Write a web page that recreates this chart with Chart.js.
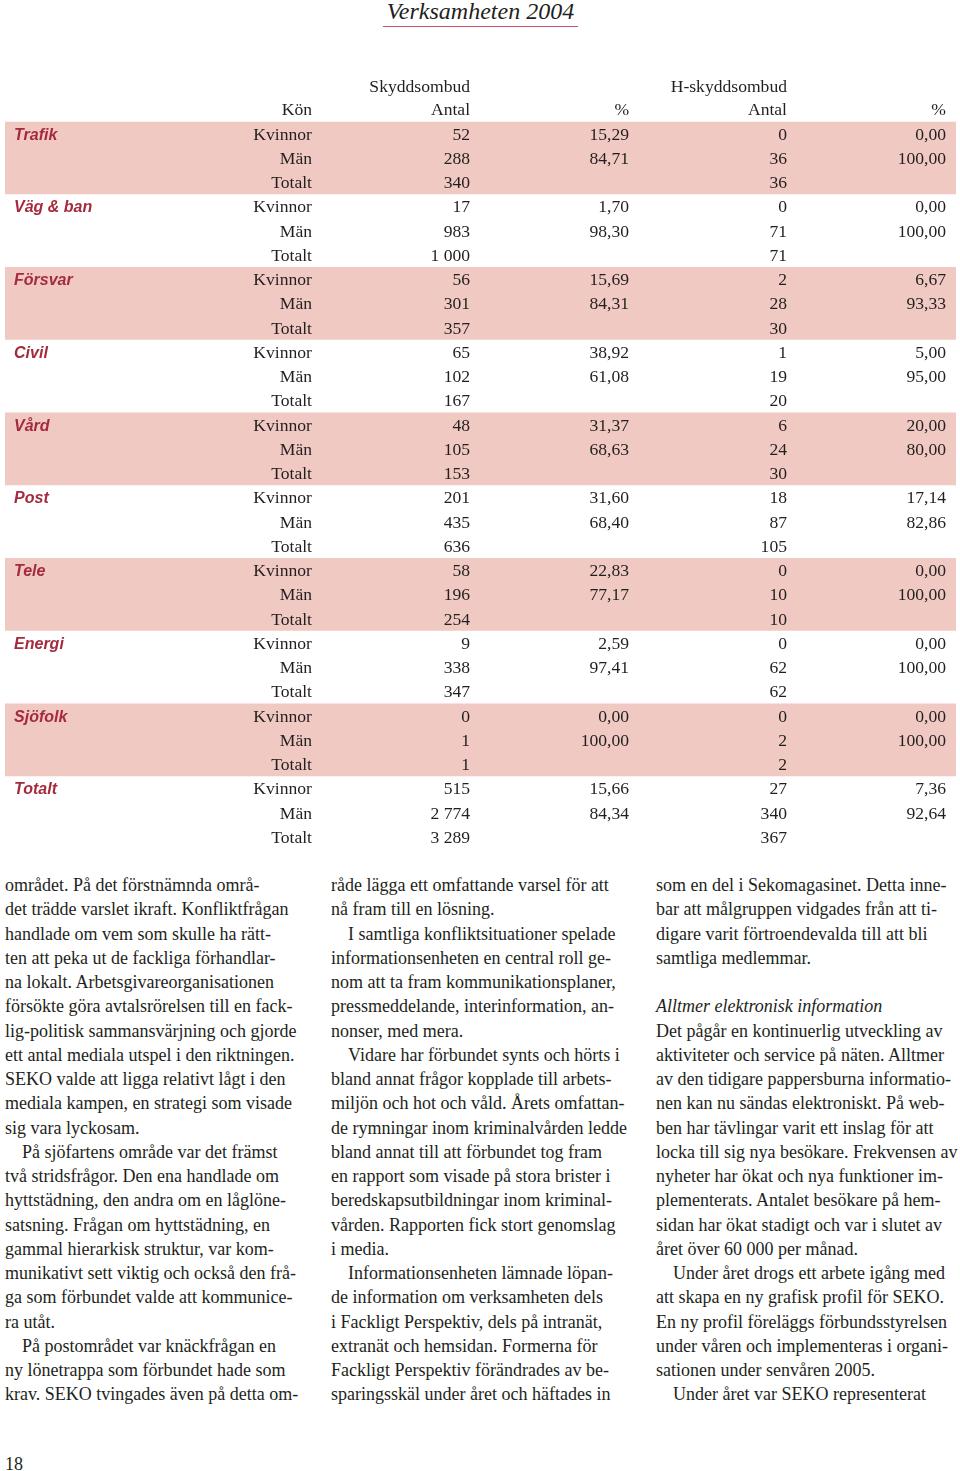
<!DOCTYPE html>
<html lang="sv">
<head>
  <meta charset="UTF-8" />
  <title>Verksamheten 2004</title>
  <script src="https://cdn.jsdelivr.net/npm/chart.js"></script>
  <style>
    html, body { margin: 0; padding: 0; background: #fff; }
    body {
      position: relative;
      width: 960px;
      height: 1471px;
      overflow: hidden;
      color: #231f20;
      font-family: "Liberation Serif", "Times New Roman", serif;
    }
    #tabell { position: absolute; left: 0; top: 0; }
    .titel {
      position: absolute; left: 383px; top: -1px; width: 195px;
      text-align: center; font-style: italic; font-size: 24px;
      line-height: 24px;
      border-bottom: 1px solid #c4566a; height: 27px;
    }
    .spalt {
      position: absolute; top: 873px; width: 300px;
      font-size: 18px; line-height: 24.25px; white-space: nowrap;
    }
    .spalt div { height: 24.25px; }
    .spalt .i { text-indent: 17px; }
    .spalt .h { font-style: italic; }
    .sida { position: absolute; left: 5px; top: 1454px; font-size: 18px; line-height: 20px; }
  </style>
</head>
<body>
  <div class="titel">Verksamheten 2004</div>
  <canvas id="tabell" width="960" height="870"></canvas>

  <div class="spalt" style="left:5px">
    <div>området. På det förstnämnda områ-</div>
    <div>det trädde varslet ikraft. Konfliktfrågan</div>
    <div>handlade om vem som skulle ha rätt-</div>
    <div>ten att peka ut de fackliga förhandlar-</div>
    <div>na lokalt. Arbetsgivareorganisationen</div>
    <div>försökte göra avtalsrörelsen till en fack-</div>
    <div>lig-politisk sammansvärjning och gjorde</div>
    <div>ett antal mediala utspel i den riktningen.</div>
    <div>SEKO valde att ligga relativt lågt i den</div>
    <div>mediala kampen, en strategi som visade</div>
    <div>sig vara lyckosam.</div>
    <div class="i">På sjöfartens område var det främst</div>
    <div>två stridsfrågor. Den ena handlade om</div>
    <div>hyttstädning, den andra om en låglöne-</div>
    <div>satsning. Frågan om hyttstädning, en</div>
    <div>gammal hierarkisk struktur, var kom-</div>
    <div>munikativt sett viktig och också den frå-</div>
    <div>ga som förbundet valde att kommunice-</div>
    <div>ra utåt.</div>
    <div class="i">På postområdet var knäckfrågan en</div>
    <div>ny lönetrappa som förbundet hade som</div>
    <div>krav. SEKO tvingades även på detta om-</div>
  </div>

  <div class="spalt" style="left:331px">
    <div>råde lägga ett omfattande varsel för att</div>
    <div>nå fram till en lösning.</div>
    <div class="i">I samtliga konfliktsituationer spelade</div>
    <div>informationsenheten en central roll ge-</div>
    <div>nom att ta fram kommunikationsplaner,</div>
    <div>pressmeddelande, interinformation, an-</div>
    <div>nonser, med mera.</div>
    <div class="i">Vidare har förbundet synts och hörts i</div>
    <div>bland annat frågor kopplade till arbets-</div>
    <div>miljön och hot och våld. Årets omfattan-</div>
    <div>de rymningar inom kriminalvården ledde</div>
    <div>bland annat till att förbundet tog fram</div>
    <div>en rapport som visade på stora brister i</div>
    <div>beredskapsutbildningar inom kriminal-</div>
    <div>vården. Rapporten fick stort genomslag</div>
    <div>i media.</div>
    <div class="i">Informationsenheten lämnade löpan-</div>
    <div>de information om verksamheten dels</div>
    <div>i Fackligt Perspektiv, dels på intranät,</div>
    <div>extranät och hemsidan. Formerna för</div>
    <div>Fackligt Perspektiv förändrades av be-</div>
    <div>sparingsskäl under året och häftades in</div>
  </div>

  <div class="spalt" style="left:656px">
    <div>som en del i Sekomagasinet. Detta inne-</div>
    <div>bar att målgruppen vidgades från att ti-</div>
    <div>digare varit förtroendevalda till att bli</div>
    <div>samtliga medlemmar.</div>
    <div></div>
    <div class="h">Alltmer elektronisk information</div>
    <div>Det pågår en kontinuerlig utveckling av</div>
    <div>aktiviteter och service på näten. Alltmer</div>
    <div>av den tidigare pappersburna informatio-</div>
    <div>nen kan nu sändas elektroniskt. På web-</div>
    <div>ben har tävlingar varit ett inslag för att</div>
    <div>locka till sig nya besökare. Frekvensen av</div>
    <div>nyheter har ökat och nya funktioner im-</div>
    <div>plementerats. Antalet besökare på hem-</div>
    <div>sidan har ökat stadigt och var i slutet av</div>
    <div>året över 60 000 per månad.</div>
    <div class="i">Under året drogs ett arbete igång med</div>
    <div>att skapa en ny grafisk profil för SEKO.</div>
    <div>En ny profil föreläggs förbundsstyrelsen</div>
    <div>under våren och implementeras i organi-</div>
    <div>sationen under senvåren 2005.</div>
    <div class="i">Under året var SEKO representerat</div>
  </div>

  <div class="sida">18</div>

  <script>
    // tabellens data
    const grupper = ['Trafik', 'Väg & ban', 'Försvar', 'Civil', 'Vård', 'Post', 'Tele', 'Energi', 'Sjöfolk', 'Totalt'];
    const kon = ['Kvinnor', 'Män', 'Totalt'];
    const skyddAntal = [52, 288, 340, 17, 983, 1000, 56, 301, 357, 65, 102, 167, 48, 105, 153,
                        201, 435, 636, 58, 196, 254, 9, 338, 347, 0, 1, 1, 515, 2774, 3289];
    const skyddPct = [15.29, 84.71, null, 1.70, 98.30, null, 15.69, 84.31, null, 38.92, 61.08, null,
                      31.37, 68.63, null, 31.60, 68.40, null, 22.83, 77.17, null, 2.59, 97.41, null,
                      0.00, 100.00, null, 15.66, 84.34, null];
    const hAntal = [0, 36, 36, 0, 71, 71, 2, 28, 30, 1, 19, 20, 6, 24, 30,
                    18, 87, 105, 0, 10, 10, 0, 62, 62, 0, 2, 2, 27, 340, 367];
    const hPct = [0.00, 100.00, null, 0.00, 100.00, null, 6.67, 93.33, null, 5.00, 95.00, null,
                  20.00, 80.00, null, 17.14, 82.86, null, 0.00, 100.00, null, 0.00, 100.00, null,
                  0.00, 100.00, null, 7.36, 92.64, null];
    const rubrikOver = ['', 'Skyddsombud', '', 'H-skyddsombud', ''];
    const rubrikUnder = ['Kön', 'Antal', '%', 'Antal', '%'];

    const rader = grupper.flatMap(g => kon.map(k => g + ' ' + k));

    function heltal(n) {
      return String(n).replace(/\B(?=(\d{3})+(?!\d))/g, ' ');
    }
    function procent(v) {
      return v == null ? '' : v.toFixed(2).replace('.', ',');
    }

    // rosa band: ett brett streck på mittraden i varannan grupp
    const band = rader.map((r, i) => {
      const g = Math.floor(i / 3);
      return (g % 2 === 0 && i % 3 === 1) ? [0, 100] : null;
    });

    // kolumnernas högerkant i x-skalans enheter
    const kolumner = { etikett: 0.95, kon: 32.28, antal: 48.9, pct: 65.62, hAntal: 82.23, hPct: 98.95 };

    const tabellText = {
      id: 'tabellText',
      afterDatasetsDraw(chart) {
        const ctx = chart.ctx;
        const x = chart.scales.x;
        const y = chart.scales.y;
        const radH = y.getPixelForValue(1) - y.getPixelForValue(0);
        const serif = '17.6px "Liberation Serif", serif';
        const hoger = [kolumner.kon, kolumner.antal, kolumner.pct, kolumner.hAntal, kolumner.hPct];

        ctx.save();
        ctx.textBaseline = 'alphabetic';
        ctx.fillStyle = '#231f20';
        ctx.font = serif;
        ctx.textAlign = 'right';
        const y0 = y.getPixelForValue(0) + 6.1;
        rubrikOver.forEach((t, c) => { if (t) ctx.fillText(t, x.getPixelForValue(hoger[c]), y0 - 2 * radH + 0.6); });
        rubrikUnder.forEach((t, c) => ctx.fillText(t, x.getPixelForValue(hoger[c]), y0 - radH));

        rader.forEach((r, i) => {
          const yy = y.getPixelForValue(i) + 6.1;
          const cells = [kon[i % 3], heltal(skyddAntal[i]), procent(skyddPct[i]), heltal(hAntal[i]), procent(hPct[i])];
          ctx.font = serif;
          ctx.fillStyle = '#231f20';
          ctx.textAlign = 'right';
          cells.forEach((t, c) => ctx.fillText(t, x.getPixelForValue(hoger[c]), yy));
          if (i % 3 === 0) {
            ctx.font = 'italic bold 16px "Liberation Sans", sans-serif';
            ctx.fillStyle = '#a52a3d';
            ctx.textAlign = 'left';
            ctx.fillText(grupper[i / 3], x.getPixelForValue(kolumner.etikett), yy);
          }
        });
        ctx.restore();
      }
    };

    new Chart(document.getElementById('tabell').getContext('2d'), {
      type: 'bar',
      data: {
        labels: rader,
        datasets: [{
          data: band,
          backgroundColor: '#f0cac2',
          borderWidth: 0,
          barPercentage: 3,
          categoryPercentage: 1
        }]
      },
      options: {
        indexAxis: 'y',
        responsive: false,
        animation: false,
        devicePixelRatio: 1,
        layout: { padding: { left: 5, right: 4, top: 121.5, bottom: 21 } },
        plugins: { legend: { display: false }, tooltip: { enabled: false } },
        scales: {
          x: { display: false, min: 0, max: 100 },
          y: { display: false }
        }
      },
      plugins: [tabellText]
    });
  </script>
</body>
</html>
